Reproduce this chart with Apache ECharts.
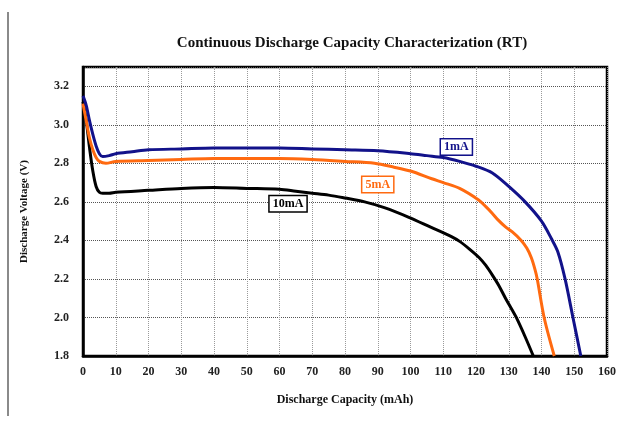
<!DOCTYPE html>
<html><head><meta charset="utf-8">
<script src="https://cdn.jsdelivr.net/npm/echarts@6/dist/echarts.min.js"></script>
<style>html,body{margin:0;padding:0;background:#fff}#c{width:619px;height:424px}</style>
</head><body><div id="c"></div>
<script>
const titleText = "Continuous Discharge Capacity Characterization (RT)";
const xName = "Discharge Capacity (mAh)";
const yName = "Discharge Voltage (V)";
const seriesNames = ["1mA", "5mA", "10mA"];

const cap1 = [0,1,2,3,4,5,6,8,10,15,20,30,40,50,60,70,80,90,100,105,110,115,120,125,130,135,140,143,145,147.2,149.6,152];
const volt1 = [3.15,3.10,3.02,2.95,2.89,2.85,2.835,2.84,2.85,2.86,2.87,2.875,2.88,2.88,2.88,2.875,2.87,2.865,2.85,2.84,2.83,2.81,2.785,2.75,2.68,2.60,2.50,2.41,2.34,2.20,2.00,1.80];

const cap5 = [0,1,2,3,4,5,7,10,20,30,40,50,60,70,80,89,95,100,106.5,110,115,120.8,123,125,126.8,129,131,133.8,135.5,136.9,138,138.7,140.8,143.9];
const volt5 = [3.11,3.02,2.93,2.87,2.83,2.81,2.80,2.81,2.815,2.82,2.825,2.825,2.825,2.82,2.81,2.80,2.78,2.76,2.72,2.70,2.67,2.61,2.575,2.54,2.505,2.47,2.445,2.40,2.36,2.31,2.25,2.20,2.00,1.80];

const cap10 = [0,1,2,3,4,5,6,8,10,20,30,40,50,60,65,70,75,80,86,92,99.5,106,112.5,115,118,121,123,125,127,129,131,132.3,135,137.5];
const volt10 = [3.12,3.02,2.88,2.76,2.68,2.65,2.645,2.645,2.65,2.66,2.67,2.675,2.67,2.665,2.655,2.645,2.635,2.62,2.60,2.57,2.52,2.47,2.42,2.395,2.355,2.31,2.27,2.22,2.165,2.10,2.04,2.00,1.90,1.80];

const labelPos = [[114, 2.885], [90, 2.69], [62.6, 2.59]];
const colors = ["#12128a", "#ff6a10", "#000000"];

const font = "Liberation Serif";
function pairs(a, b) { return a.map((v, i) => [v, b[i]]); }
const allData = [pairs(cap1, volt1), pairs(cap5, volt5), pairs(cap10, volt10)];

const chart = echarts.init(document.getElementById('c'), null, {renderer: 'canvas'});
chart.setOption({
  animation: false,
  backgroundColor: '#fff',
  title: {
    text: titleText, left: 347, top: 31, textAlign: 'center',
    textStyle: {fontFamily: font, fontWeight: 'bold', fontSize: 15, color: '#111'}
  },
  grid: {left: 83, right: 10, top: 67, bottom: 68, show: true, borderColor: '#000', borderWidth: 2.5, backgroundColor: 'transparent'},
  xAxis: {
    type: 'value', min: 0, max: 160, interval: 10,
    name: xName, nameLocation: 'middle', nameGap: 38,
    nameTextStyle: {fontFamily: font, fontWeight: 'bold', fontSize: 12, color: '#111'},
    axisLine: {show: true, lineStyle: {color: '#000', width: 2.5}},
    axisTick: {show: false},
    axisLabel: {fontFamily: font, fontWeight: 'bold', fontSize: 12, color: '#222', margin: 10},
    splitLine: {show: true, lineStyle: {color: '#9a9a9a', width: 1, type: [1, 1]}}
  },
  yAxis: {
    type: 'value', min: 1.8, max: 3.3, interval: 0.2,
    name: yName, nameLocation: 'middle', nameGap: 53,
    nameTextStyle: {fontFamily: font, fontWeight: 'bold', fontSize: 11, color: '#111'},
    axisLine: {show: true, lineStyle: {color: '#000', width: 2.5}},
    axisTick: {show: false},
    axisLabel: {fontFamily: font, fontWeight: 'bold', fontSize: 12, color: '#222', margin: 14,
      showMaxLabel: false, formatter: v => v.toFixed(1)},
    splitLine: {show: true, lineStyle: {color: '#555', width: 1, type: [1, 1]}}
  },
  graphic: [{type: 'line', shape: {x1: 8, y1: 12, x2: 8, y2: 416}, style: {stroke: '#8a8a8a', lineWidth: 2}}],
  series: seriesNames.map((n, i) => ({
    name: n, type: 'line', data: allData[i], showSymbol: false, smooth: 0.3,
    lineStyle: {color: colors[i], width: 3},
    z: 3 - i,
    markPoint: {
      symbol: 'rect', symbolSize: 0,
      data: [{coord: labelPos[i], value: n}],
      label: {
        show: true, formatter: n, color: colors[i], fontFamily: font, fontWeight: 'bold', fontSize: 12,
        backgroundColor: '#fff', borderColor: colors[i], borderWidth: 1.5, padding: [2, 3, 1, 3]
      }
    }
  }))
});
</script></body></html>
